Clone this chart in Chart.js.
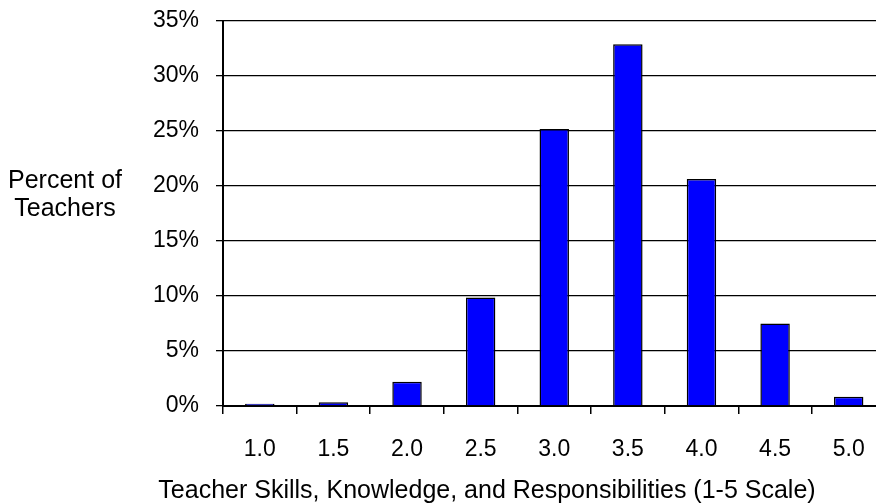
<!DOCTYPE html>
<html>
<head>
<meta charset="utf-8">
<script src="https://cdn.jsdelivr.net/npm/chart.js@4"></script>
<style>
  html, body { margin: 0; padding: 0; background: #fff; }
  #wrap { width: 876px; height: 504px; overflow: hidden; position: relative; }
  #box { width: 890px; height: 504px; }
</style>
</head>
<body>
<div id="wrap"><div id="box"><canvas id="chart"></canvas></div></div>
<script>
// Chart data
const scores = ['1.0', '1.5', '2.0', '2.5', '3.0', '3.5', '4.0', '4.5', '5.0'];
const percentTeachers = [0.2, 0.35, 2.2, 9.85, 25.15, 32.85, 20.6, 7.5, 0.85];
const yTicks = [0, 5, 10, 15, 20, 25, 30, 35];
const yTitle = ['Percent of', 'Teachers'];
const xTitle = 'Teacher Skills, Knowledge, and Responsibilities (1-5 Scale)';

const FONT = 'Liberation Sans, Arial, sans-serif';

/**
 * Axis titles drawn flat (not rotated), like the original
 */
const titles = {
    id: 'titles',
    afterDraw(chart) {
        const ctx = chart.ctx;
        ctx.save();
        ctx.fillStyle = '#000';
        ctx.font = '25px ' + FONT;
        ctx.textAlign = 'center';
        ctx.textBaseline = 'alphabetic';
        ctx.fillText(yTitle[0], 65, 188);
        ctx.fillText(yTitle[1], 65, 216);
        ctx.fillText(xTitle, 487, 498);
        ctx.restore();
    }
};

new Chart(document.getElementById('chart'), {
    type: 'bar',
    data: {
        labels: scores,
        datasets: [{
            data: percentTeachers,
            backgroundColor: '#0000ff',
            borderColor: '#000',
            borderWidth: 1.5,
            barPercentage: 0.4,
            categoryPercentage: 1,
        }]
    },
    options: {
        responsive: true,
        maintainAspectRatio: false,
        animation: false,
        layout: { padding: { left: 0, right: 4.5, top: 20.5, bottom: 0 } },
        plugins: {
            legend: { display: false },
            tooltip: { enabled: false },
        },
        scales: {
            x: {
                grid: { display: true, drawOnChartArea: false, offset: true, color: '#000', lineWidth: 1.5, tickLength: 8 },
                border: { color: '#000', width: 2 },
                ticks: { color: '#000', font: { family: FONT, size: 23 }, padding: 22, maxRotation: 0 },
                afterFit(scale) { scale.height = 98; },
            },
            y: {
                min: 0,
                max: 35,
                afterBuildTicks(scale) { scale.ticks = yTicks.map(v => ({ value: v })); },
                grid: { color: '#000', lineWidth: 1.3, tickLength: 7 },
                border: { color: '#000', width: 2 },
                ticks: { color: '#000', font: { family: FONT, size: 23 }, padding: 17, callback: v => v + '%' },
                afterFit(scale) {
                    scale.width = 223;
                    scale.paddingTop = 0;
                    scale.paddingBottom = 0;
                },
            }
        }
    },
    plugins: [titles]
});
</script>
</body>
</html>
